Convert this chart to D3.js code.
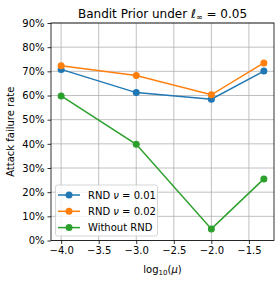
<!DOCTYPE html>
<html>
<head>
<meta charset="utf-8">
<script src="https://cdn.jsdelivr.net/npm/d3@7"></script>
<style>
  body { margin: 0; background: #fff; }
  text { font-family: "DejaVu Sans", sans-serif; fill: #000; }
</style>
</head>
<body>
<svg width="280" height="283"></svg>
<script>
  // log10(mu) positions
  const xs = [-4, -3, -2, -1.301];
  const rnd001 = [0.708, 0.612, 0.585, 0.701];
  const rnd002 = [0.723, 0.683, 0.603, 0.735];
  const noRnd = [0.598, 0.398, 0.048, 0.255];
  const xTicks = [-4.0, -3.5, -3.0, -2.5, -2.0, -1.5];
  const yTicks = [0, 0.1, 0.2, 0.3, 0.4, 0.5, 0.6, 0.7, 0.8, 0.9];

  const series = [
    { name: 'RND', nu: '0.01', vals: rnd001, color: '#1f77b4' },
    { name: 'RND', nu: '0.02', vals: rnd002, color: '#ff7f0e' },
    { name: 'Without RND', vals: noRnd, color: '#2ca02c' }
  ];

  const svg = d3.select('svg');
  const L = 51, R = 274, T = 23, B = 240.5;

  const x = d3.scaleLinear().domain([-4.135, -1.166]).range([L, R]);
  const y = d3.scaleLinear().domain([0, 0.9]).range([B, T]);

  // grid
  const grid = svg.append('g').attr('stroke', '#b0b0b0').attr('stroke-width', 0.8);
  xTicks.forEach(t => grid.append('line').attr('x1', x(t)).attr('x2', x(t)).attr('y1', T).attr('y2', B));
  yTicks.forEach(t => grid.append('line').attr('x1', L).attr('x2', R).attr('y1', y(t)).attr('y2', y(t)));

  // axes
  const xAxis = svg.append('g').attr('transform', `translate(0,${B})`)
    .call(d3.axisBottom(x).tickValues(xTicks).tickSize(3.5).tickPadding(3)
      .tickFormat(d => d3.format('.1f')(d).replace('-', '\u2212')));
  const yAxis = svg.append('g').attr('transform', `translate(${L},0)`)
    .call(d3.axisLeft(y).tickValues(yTicks).tickSize(3.5).tickPadding(3)
      .tickFormat(d3.format('.0%')));
  [xAxis, yAxis].forEach(a => {
    a.select('.domain').remove();
    a.selectAll('text').attr('font-size', 10).attr('font-family', 'DejaVu Sans').attr('fill', '#000');
    a.selectAll('line').attr('stroke', '#000').attr('stroke-width', 0.8);
  });

  svg.append('rect').attr('x', L).attr('y', T).attr('width', R - L).attr('height', B - T)
    .attr('fill', 'none').attr('stroke', '#000').attr('stroke-width', 0.8);

  // lines
  const line = d3.line().x((d, i) => x(xs[i])).y(d => y(d));
  series.forEach(s => {
    svg.append('path').datum(s.vals).attr('d', line)
      .attr('fill', 'none').attr('stroke', s.color).attr('stroke-width', 1.5);
    svg.selectAll(null).data(s.vals).enter().append('circle')
      .attr('cx', (d, i) => x(xs[i])).attr('cy', d => y(d)).attr('r', 3.5)
      .attr('fill', s.color);
  });

  // title
  const title = svg.append('text').attr('x', (L + R) / 2).attr('y', 18)
    .attr('text-anchor', 'middle').attr('font-size', 12);
  title.append('tspan').text('Bandit Prior under ');
  title.append('tspan').attr('font-style', 'italic').text('\u2113');
  title.append('tspan').attr('font-size', 8).attr('dy', 2).text('\u221e');
  title.append('tspan').attr('dy', -2).text(' = 0.05');

  // axis labels
  const xl = svg.append('text').attr('x', (L + R) / 2).attr('y', 273)
    .attr('text-anchor', 'middle').attr('font-size', 10);
  xl.append('tspan').text('log');
  xl.append('tspan').attr('font-size', 7).attr('dy', 2).text('10');
  xl.append('tspan').attr('dy', -2).text('(');
  xl.append('tspan').attr('font-style', 'italic').text('\u03bc');
  xl.append('tspan').text(')');

  svg.append('text').attr('transform', `translate(14,${(T + B) / 2}) rotate(-90)`)
    .attr('text-anchor', 'middle').attr('font-size', 10).text('Attack failure rate');

  // legend
  const lg = svg.append('g');
  lg.append('rect').attr('x', 55.5).attr('y', 185).attr('width', 102).attr('height', 51)
    .attr('rx', 2).attr('fill', '#fff').attr('fill-opacity', 0.8)
    .attr('stroke', '#cccccc').attr('stroke-width', 0.8);
  series.forEach((s, i) => {
    const yy = 195 + i * 16.3;
    lg.append('line').attr('x1', 58).attr('x2', 80).attr('y1', yy).attr('y2', yy)
      .attr('stroke', s.color).attr('stroke-width', 1.5);
    lg.append('circle').attr('cx', 69).attr('cy', yy).attr('r', 3.5).attr('fill', s.color);
    const t = lg.append('text').attr('x', 88).attr('y', yy + 3.5).attr('font-size', 10);
    if (s.nu) {
      t.append('tspan').text(s.name + ' ');
      t.append('tspan').attr('font-style', 'italic').text('\u03bd');
      t.append('tspan').text(' = ' + s.nu);
    } else {
      t.text(s.name);
    }
  });
</script>
</body>
</html>
